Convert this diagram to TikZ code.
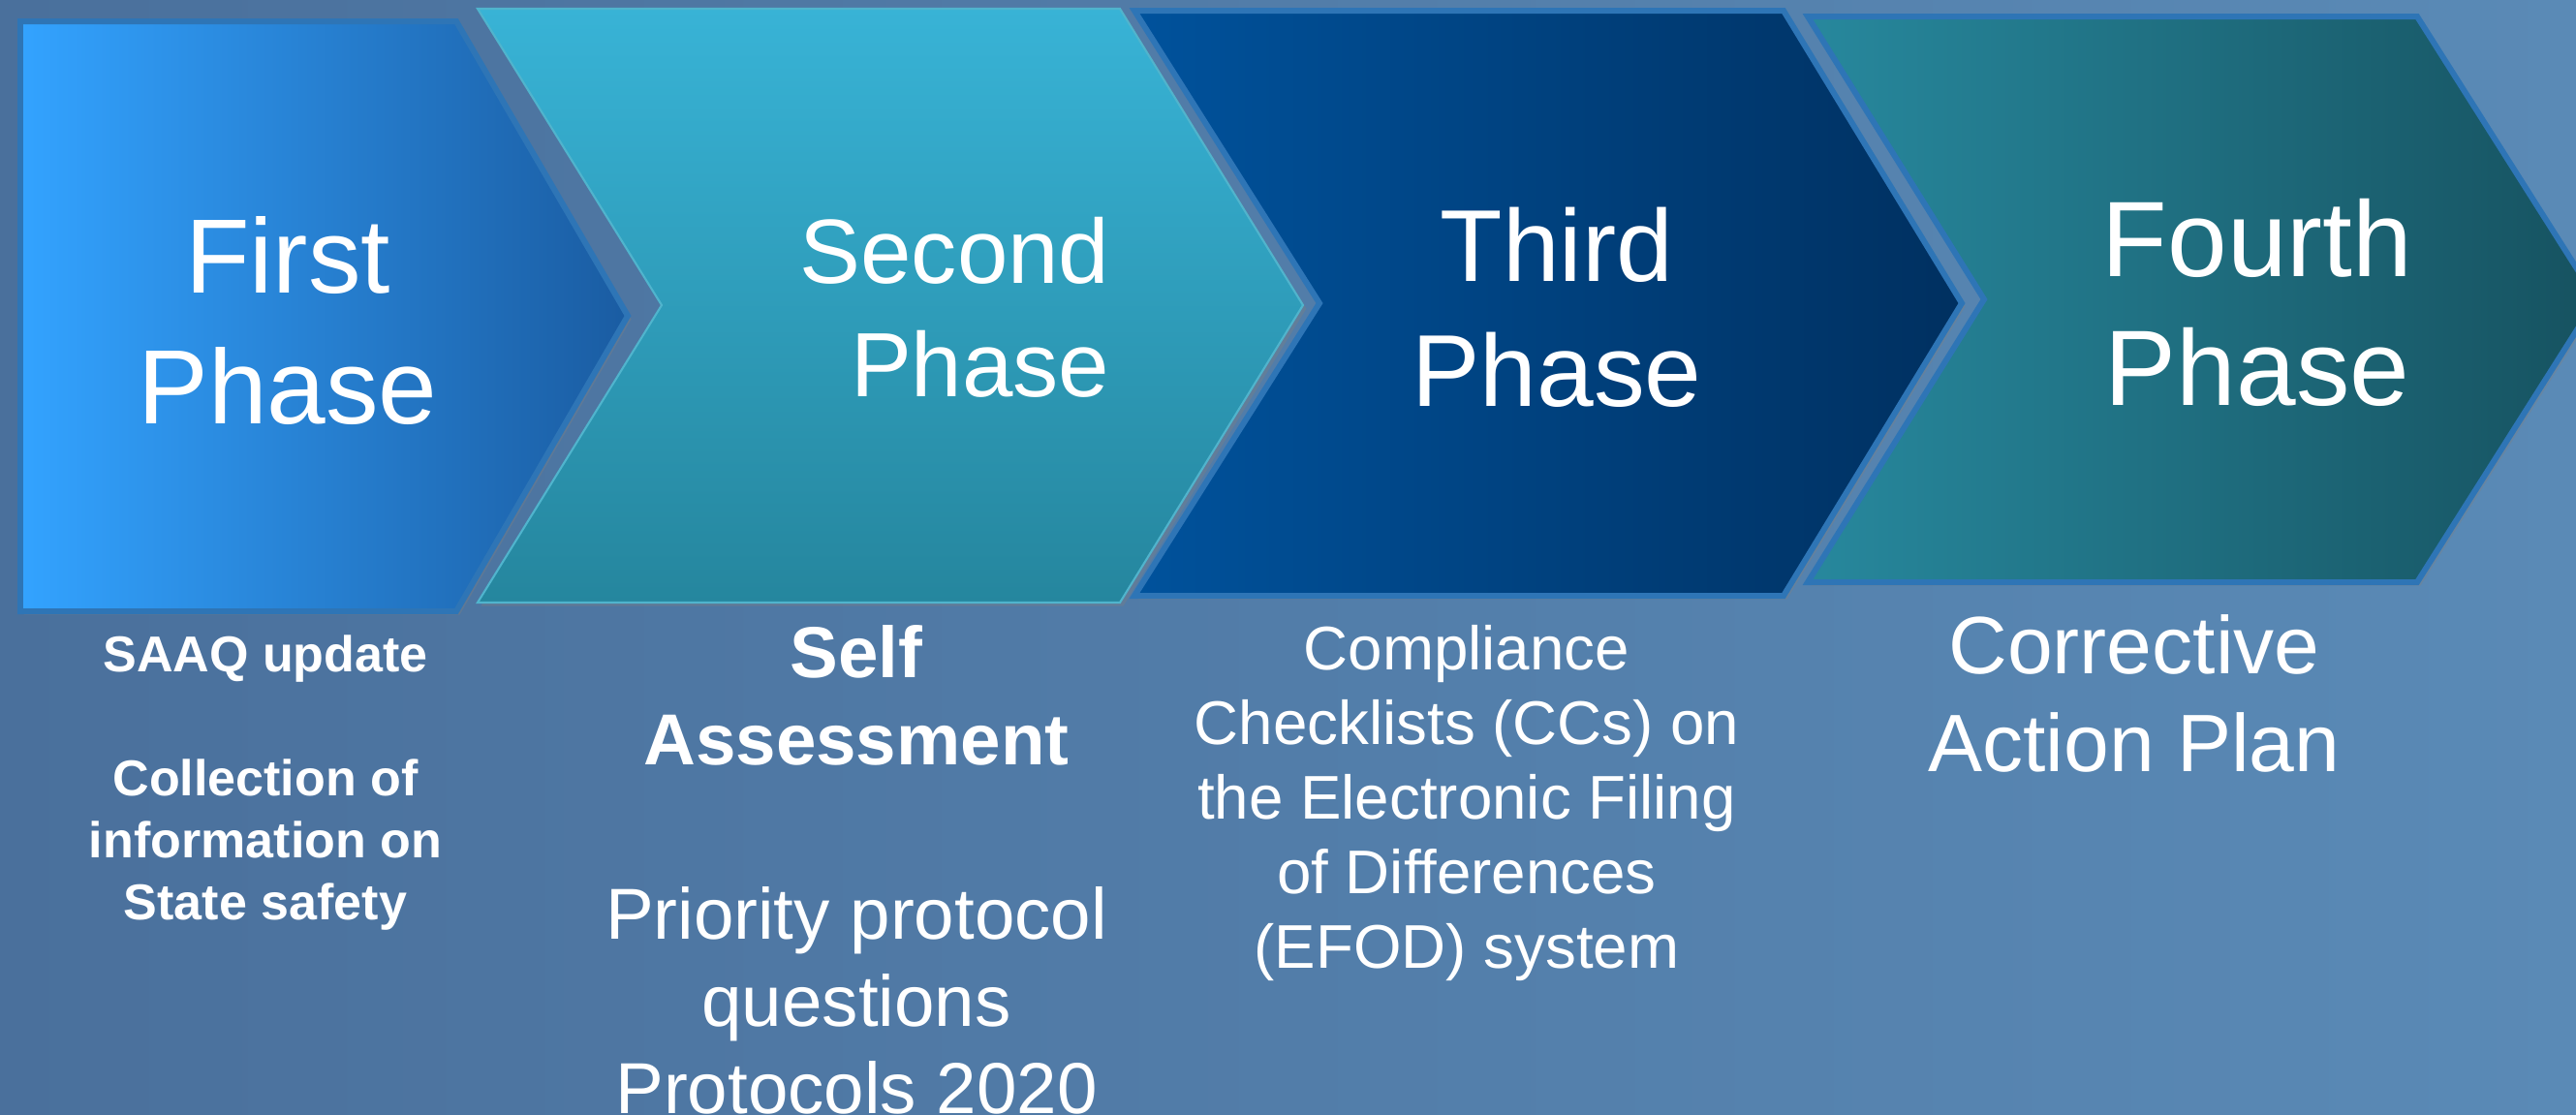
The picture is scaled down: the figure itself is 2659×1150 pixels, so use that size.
\documentclass[tikz,border=0pt]{standalone}
\usepackage{fontspec}
\setmainfont{Liberation Sans}
\usetikzlibrary{shadows}
\usetikzlibrary{positioning}

\definecolor{bgleft}{RGB}{74,112,156}
\definecolor{bgright}{RGB}{90,138,182}
\definecolor{rimblue}{RGB}{46,117,182}
\definecolor{oneleft}{RGB}{51,163,255}
\definecolor{oneright}{RGB}{26,92,162}
\definecolor{twotop}{RGB}{56,179,214}
\definecolor{twobottom}{RGB}{37,134,158}
\definecolor{tworim}{RGB}{80,180,205}
\definecolor{threeleft}{RGB}{0,82,156}
\definecolor{threeright}{RGB}{0,48,96}
\definecolor{fourleft}{RGB}{39,136,157}
\definecolor{fourright}{RGB}{22,82,96}

\begin{document}
\begin{tikzpicture}[x=0.01cm,y=-0.01cm,line join=miter]
\tikzstyle{phasebox}=[draw=rimblue,line width=1.7pt,
                      drop shadow={opacity=0.35,shadow xshift=1pt,shadow yshift=-1pt}]
\tikzstyle{phasetitle}=[text=white,inner sep=0pt,anchor=north,align=center]
\tikzstyle{phasenote}=[text=white,inner sep=0pt,anchor=north,align=center]

\clip (0,0) rectangle (2659,1150);
\shade[left color=bgleft,right color=bgright] (0,0) rectangle (2659,1150);

% chevrons
\path[phasebox,left color=oneleft,right color=oneright]
  (21,22) -- (471,22) -- (648,326) -- (471,631) -- (21,631) -- cycle;
\path[phasebox,draw=tworim,line width=0.6pt,top color=twotop,bottom color=twobottom]
  (493,9) -- (1156,9) -- (1345,315) -- (1156,622) -- (493,622) -- (683,315) -- cycle;
\path[phasebox,left color=threeleft,right color=threeright]
  (1171,11) -- (1841,11) -- (2025,313) -- (1841,615) -- (1171,615) -- (1362,313) -- cycle;
\path[phasebox,left color=fourleft,right color=fourright]
  (1866,17) -- (2495,17) -- (2680,309) -- (2495,601) -- (1866,601) -- (2048,309) -- cycle;

% titles
\node[phasetitle,font=\fontsize{31}{38.4}\selectfont] (first) at (297,223) {First\\Phase};
\node[phasetitle,anchor=north east,align=right,font=\fontsize{26.8}{33.3}\selectfont] (second) at (1146,223) {Second\\Phase};
\node[phasetitle,font=\fontsize{30}{36.7}\selectfont] (third) at (1607,213) {Third\\Phase};
\node[phasetitle,font=\fontsize{31.5}{37.8}\selectfont] (fourth) at (2330,205) {Fourth\\Phase};

% what each phase covers
\node[phasenote,font=\bfseries\fontsize{14.8}{18.2}\selectfont] (saaq) at (274,655)
  {SAAQ update\\[18.2pt]Collection of\\information on\\State safety};
\node[phasenote,font=\fontsize{21.2}{25.6}\selectfont] (self) at (884,645)
  {\textbf{Self}\\\textbf{Assessment}\\[25.6pt]Priority protocol\\questions\\Protocols 2020};
\node[phasenote,font=\fontsize{18.1}{21.9}\selectfont] (efod) at (1514,645)
  {Compliance\\Checklists (CCs) on\\the Electronic Filing\\of Differences\\(EFOD) system};
\node[phasenote,font=\fontsize{23.9}{28.7}\selectfont] (plan) at (2203,634)
  {Corrective\\Action Plan};
\end{tikzpicture}
\end{document}
